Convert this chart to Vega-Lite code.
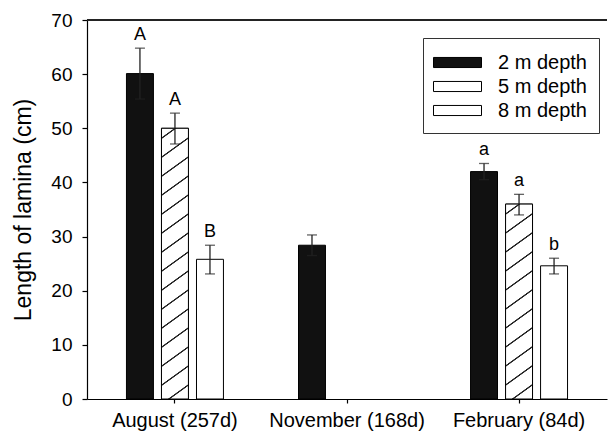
{
  "$schema": "https://vega.github.io/schema/vega-lite/v6.json",
  "width": 520,
  "height": 379,
  "autosize": {"type": "none"},
  "padding": {"left": 87, "top": 20, "right": 1, "bottom": 44},
  "background": "white",
  "config": {
    "view": {"stroke": null},
    "font": "Liberation Sans",
    "axis": {"domainColor": "black", "tickColor": "black", "labelColor": "black", "titleColor": "black", "grid": false, "domainWidth": 1.2, "tickWidth": 1.2}
  },
  "data": {
    "values": [
      {"month": "August (257d)", "depth": "2 m depth", "value": 60.1, "lo": 55.4, "hi": 64.8, "letter": "A"},
      {"month": "August (257d)", "depth": "5 m depth", "value": 50.0, "lo": 47.1, "hi": 52.8, "letter": "A"},
      {"month": "August (257d)", "depth": "8 m depth", "value": 25.8, "lo": 23.1, "hi": 28.4, "letter": "B"},
      {"month": "November (168d)", "depth": "2 m depth", "value": 28.4, "lo": 26.5, "hi": 30.3, "letter": ""},
      {"month": "February (84d)", "depth": "2 m depth", "value": 42.0, "lo": 40.5, "hi": 43.5, "letter": "a"},
      {"month": "February (84d)", "depth": "5 m depth", "value": 36.0, "lo": 34.0, "hi": 37.8, "letter": "a"},
      {"month": "February (84d)", "depth": "8 m depth", "value": 24.6, "lo": 23.1, "hi": 26.0, "letter": "b"}
    ]
  },
  "layer": [
    {
      "mark": {"type": "bar", "stroke": "black", "strokeWidth": 1},
      "encoding": {
        "x": {"field": "month", "type": "nominal", "sort": ["August (257d)", "November (168d)", "February (84d)"], "scale": {"paddingInner": 0.3895, "paddingOuter": 0.206}, "axis": {"title": null, "labelAngle": 0, "labelFontSize": 20, "tickSize": 4, "labelPadding": 7}},
        "xOffset": {"field": "depth", "type": "nominal", "sort": ["2 m depth", "5 m depth", "8 m depth"], "scale": {"domain": ["2 m depth", "5 m depth", "8 m depth"], "paddingInner": 0.23, "paddingOuter": 0.115}},
        "y": {"field": "value", "type": "quantitative", "scale": {"domain": [0, 70], "nice": false}, "axis": {"title": "Length of lamina (cm)", "values": [0, 10, 20, 30, 40, 50, 60, 70], "tickSize": 5, "labelPadding": 10, "labelFontSize": 19, "titleFontSize": 23, "titleFontWeight": "normal", "titlePadding": 15}},
        "fill": {
          "field": "depth", "type": "nominal",
          "scale": {"domain": ["2 m depth", "5 m depth", "8 m depth"], "range": ["#111111", "#ffffff", "#ffffff"]},
          "legend": {"orient": "none", "legendX": 336, "legendY": 18, "title": null, "strokeColor": "#333", "fillColor": "white", "padding": 12, "labelFontSize": 20, "labelColor": "black", "symbolType": "M-2,-0.42H2V0.42H-2Z", "symbolSize": 576, "symbolOffset": 10, "symbolStrokeColor": "black", "symbolStrokeWidth": 1, "labelOffset": 28, "rowPadding": 1,
            "encode": {"symbols": {"update": {
              "stroke": {"value": "black"},
              "strokeWidth": {"value": 1},
              "fill": {"signal": "datum.value === '5 m depth' ? {gradient: 'linear', x1: 0, y1: 0, x2: 1.1393, y2: 0.1978, stops: [{offset: 0, color: 'white'}, {offset: 0.1598, color: 'white'}, {offset: 0.1701, color: '#222'}, {offset: 0.1849, color: '#222'}, {offset: 0.1952, color: 'white'}, {offset: 0.3906, color: 'white'}, {offset: 0.4009, color: '#222'}, {offset: 0.4157, color: '#222'}, {offset: 0.4260, color: 'white'}, {offset: 0.6214, color: 'white'}, {offset: 0.6317, color: '#222'}, {offset: 0.6465, color: '#222'}, {offset: 0.6568, color: 'white'}, {offset: 0.8521, color: 'white'}, {offset: 0.8624, color: '#222'}, {offset: 0.8772, color: '#222'}, {offset: 0.8875, color: 'white'}, {offset: 1, color: 'white'}]} : (datum.value === '2 m depth' ? '#111111' : '#ffffff')"}
            }}}
          }
        }
      }
    },
    {
      "transform": [{"filter": "datum.depth === '5 m depth'"}],
      "mark": {"type": "bar", "stroke": "black", "strokeWidth": 1},
      "encoding": {
        "x": {"field": "month", "type": "nominal", "sort": ["August (257d)", "November (168d)", "February (84d)"]},
        "xOffset": {"field": "depth", "type": "nominal", "sort": ["2 m depth", "5 m depth", "8 m depth"]},
        "y": {"field": "value", "type": "quantitative"},
        "fill": {
          "condition": {"test": "datum.month === 'August (257d)'", "value": {"gradient": "linear", "x1": 0, "y1": 0, "x2": 0.0766, "y2": 1.0663, "stops": [
            {"offset": 0, "color": "white"},
            {"offset": 0.0304, "color": "white"}, {"offset": 0.0328, "color": "#222"}, {"offset": 0.0362, "color": "#222"}, {"offset": 0.0386, "color": "white"},
            {"offset": 0.0959, "color": "white"}, {"offset": 0.0983, "color": "#222"}, {"offset": 0.1017, "color": "#222"}, {"offset": 0.1041, "color": "white"},
            {"offset": 0.1614, "color": "white"}, {"offset": 0.1638, "color": "#222"}, {"offset": 0.1672, "color": "#222"}, {"offset": 0.1696, "color": "white"},
            {"offset": 0.2269, "color": "white"}, {"offset": 0.2293, "color": "#222"}, {"offset": 0.2327, "color": "#222"}, {"offset": 0.2351, "color": "white"},
            {"offset": 0.2924, "color": "white"}, {"offset": 0.2948, "color": "#222"}, {"offset": 0.2982, "color": "#222"}, {"offset": 0.3006, "color": "white"},
            {"offset": 0.3578, "color": "white"}, {"offset": 0.3602, "color": "#222"}, {"offset": 0.3636, "color": "#222"}, {"offset": 0.3660, "color": "white"},
            {"offset": 0.4233, "color": "white"}, {"offset": 0.4257, "color": "#222"}, {"offset": 0.4291, "color": "#222"}, {"offset": 0.4315, "color": "white"},
            {"offset": 0.4888, "color": "white"}, {"offset": 0.4912, "color": "#222"}, {"offset": 0.4946, "color": "#222"}, {"offset": 0.4970, "color": "white"},
            {"offset": 0.5543, "color": "white"}, {"offset": 0.5567, "color": "#222"}, {"offset": 0.5601, "color": "#222"}, {"offset": 0.5625, "color": "white"},
            {"offset": 0.6198, "color": "white"}, {"offset": 0.6222, "color": "#222"}, {"offset": 0.6256, "color": "#222"}, {"offset": 0.6280, "color": "white"},
            {"offset": 0.6853, "color": "white"}, {"offset": 0.6877, "color": "#222"}, {"offset": 0.6911, "color": "#222"}, {"offset": 0.6935, "color": "white"},
            {"offset": 0.7508, "color": "white"}, {"offset": 0.7532, "color": "#222"}, {"offset": 0.7566, "color": "#222"}, {"offset": 0.7590, "color": "white"},
            {"offset": 0.8163, "color": "white"}, {"offset": 0.8187, "color": "#222"}, {"offset": 0.8221, "color": "#222"}, {"offset": 0.8245, "color": "white"},
            {"offset": 0.8818, "color": "white"}, {"offset": 0.8842, "color": "#222"}, {"offset": 0.8876, "color": "#222"}, {"offset": 0.8900, "color": "white"},
            {"offset": 0.9473, "color": "white"}, {"offset": 0.9497, "color": "#222"}, {"offset": 0.9531, "color": "#222"}, {"offset": 0.9555, "color": "white"},
            {"offset": 1, "color": "white"}
          ]}},
          "value": {"gradient": "linear", "x1": 0, "y1": 0, "x2": 0.1086, "y2": 1.0887, "stops": [
            {"offset": 0, "color": "white"},
            {"offset": 0.0411, "color": "white"}, {"offset": 0.0444, "color": "#222"}, {"offset": 0.0490, "color": "#222"}, {"offset": 0.0523, "color": "white"},
            {"offset": 0.1297, "color": "white"}, {"offset": 0.1330, "color": "#222"}, {"offset": 0.1376, "color": "#222"}, {"offset": 0.1409, "color": "white"},
            {"offset": 0.2184, "color": "white"}, {"offset": 0.2217, "color": "#222"}, {"offset": 0.2263, "color": "#222"}, {"offset": 0.2296, "color": "white"},
            {"offset": 0.3070, "color": "white"}, {"offset": 0.3103, "color": "#222"}, {"offset": 0.3149, "color": "#222"}, {"offset": 0.3182, "color": "white"},
            {"offset": 0.3957, "color": "white"}, {"offset": 0.3990, "color": "#222"}, {"offset": 0.4036, "color": "#222"}, {"offset": 0.4069, "color": "white"},
            {"offset": 0.4844, "color": "white"}, {"offset": 0.4877, "color": "#222"}, {"offset": 0.4923, "color": "#222"}, {"offset": 0.4956, "color": "white"},
            {"offset": 0.5730, "color": "white"}, {"offset": 0.5763, "color": "#222"}, {"offset": 0.5809, "color": "#222"}, {"offset": 0.5842, "color": "white"},
            {"offset": 0.6617, "color": "white"}, {"offset": 0.6650, "color": "#222"}, {"offset": 0.6696, "color": "#222"}, {"offset": 0.6729, "color": "white"},
            {"offset": 0.7504, "color": "white"}, {"offset": 0.7537, "color": "#222"}, {"offset": 0.7583, "color": "#222"}, {"offset": 0.7616, "color": "white"},
            {"offset": 0.8390, "color": "white"}, {"offset": 0.8423, "color": "#222"}, {"offset": 0.8469, "color": "#222"}, {"offset": 0.8502, "color": "white"},
            {"offset": 0.9277, "color": "white"}, {"offset": 0.9310, "color": "#222"}, {"offset": 0.9356, "color": "#222"}, {"offset": 0.9389, "color": "white"},
            {"offset": 1, "color": "white"}
          ]}
        }
      }
    },
    {
      "mark": {"type": "rule", "color": "#222", "strokeWidth": 1.3},
      "encoding": {
        "x": {"field": "month", "type": "nominal", "sort": ["August (257d)", "November (168d)", "February (84d)"]},
        "xOffset": {"field": "depth", "type": "nominal", "sort": ["2 m depth", "5 m depth", "8 m depth"]},
        "y": {"field": "lo", "type": "quantitative"},
        "y2": {"field": "hi"}
      }
    },
    {
      "mark": {"type": "tick", "color": "#222", "size": 10, "thickness": 1.3},
      "encoding": {
        "x": {"field": "month", "type": "nominal", "sort": ["August (257d)", "November (168d)", "February (84d)"]},
        "xOffset": {"field": "depth", "type": "nominal", "sort": ["2 m depth", "5 m depth", "8 m depth"]},
        "y": {"field": "hi", "type": "quantitative"}
      }
    },
    {
      "mark": {"type": "tick", "color": "#222", "size": 10, "thickness": 1.3},
      "encoding": {
        "x": {"field": "month", "type": "nominal", "sort": ["August (257d)", "November (168d)", "February (84d)"]},
        "xOffset": {"field": "depth", "type": "nominal", "sort": ["2 m depth", "5 m depth", "8 m depth"]},
        "y": {"field": "lo", "type": "quantitative"}
      }
    },
    {
      "mark": {"type": "text", "fontSize": 18, "color": "black", "baseline": "alphabetic", "dy": -8},
      "encoding": {
        "x": {"field": "month", "type": "nominal", "sort": ["August (257d)", "November (168d)", "February (84d)"]},
        "xOffset": {"field": "depth", "type": "nominal", "sort": ["2 m depth", "5 m depth", "8 m depth"]},
        "y": {"field": "hi", "type": "quantitative"},
        "text": {"field": "letter"}
      }
    },
    {
      "mark": {"type": "rule", "color": "#222", "strokeWidth": 1.2},
      "encoding": {"y": {"datum": 70}}
    }
  ]
}
